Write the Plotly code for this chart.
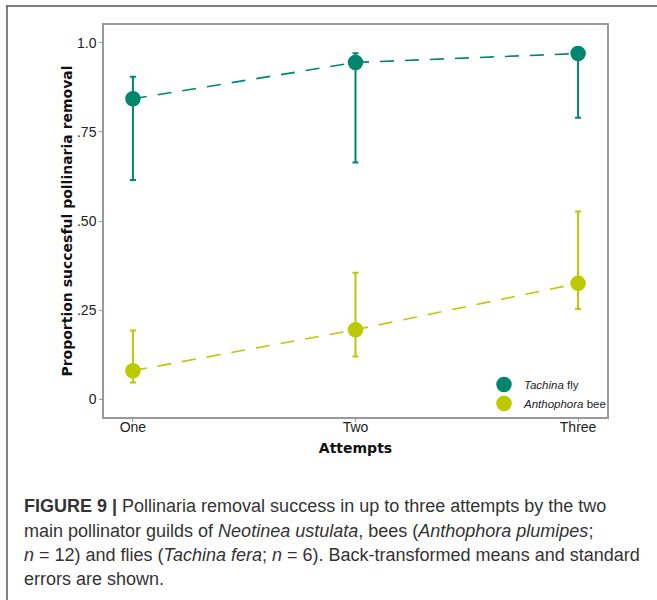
import plotly.graph_objects as go

attempts = ["One", "Two", "Three"]

tachina_mean = [0.843, 0.945, 0.970]
tachina_low = [0.615, 0.664, 0.790]
tachina_high = [0.905, 0.971, 0.970]

antho_mean = [0.080, 0.195, 0.325]
antho_low = [0.047, 0.120, 0.253]
antho_high = [0.193, 0.355, 0.527]

ytick_vals = [0, 0.25, 0.5, 0.75, 1.0]
ytick_text = ["0", ".25", ".50", ".75", "1.0"]

TEAL = "#00866e"
YEL = "#bcc800"

fig = go.Figure()

def add_series(name, mean, low, high, color):
    fig.add_trace(go.Scatter(
        x=attempts, y=mean, mode="lines", showlegend=False,
        line=dict(color=color, width=1.6, dash="14px,11px"), hoverinfo="skip"))
    fig.add_trace(go.Scatter(
        x=attempts, y=mean, mode="markers", name=name,
        marker=dict(color=color, size=15.5),
        error_y=dict(type="data", symmetric=False,
                     array=[h - m for h, m in zip(high, mean)],
                     arrayminus=[m - l for m, l in zip(mean, low)],
                     color=color, thickness=2, width=3)))

add_series("<i>Tachina</i> fly", tachina_mean, tachina_low, tachina_high, TEAL)
add_series("<i>Anthophora</i> bee", antho_mean, antho_low, antho_high, YEL)

L, R, T, B = 104, 607, 25, 417
W, H = 657, 600
pw, ph = R - L, B - T

def px(x):
    return (x - L) / pw

def py(y):
    return (B - y) / ph

caption = [
    "<b>FIGURE 9 |</b> Pollinaria removal success in up to three attempts by the two",
    "main pollinator guilds of <i>Neotinea ustulata</i>, bees (<i>Anthophora plumipes</i>;",
    "<i>n</i> = 12) and flies (<i>Tachina fera</i>; <i>n</i> = 6). Back-transformed means and standard",
    "errors are shown.",
]
cap_y = [506, 531, 555, 579]
annotations = []
for t, yy in zip(caption, cap_y):
    annotations.append(dict(
        text=t, xref="paper", yref="paper", x=px(22), y=py(yy),
        xanchor="left", yanchor="middle", showarrow=False,
        font=dict(family="Liberation Sans", size=18, color="#333333")))

shapes = [
    dict(type="line", xref="paper", yref="paper", x0=px(6), x1=px(660),
         y0=py(6), y1=py(6), line=dict(color="#555555", width=1.5)),
    dict(type="line", xref="paper", yref="paper", x0=px(7), x1=px(7),
         y0=py(6), y1=py(603), line=dict(color="#555555", width=1.5)),
]

fig.update_layout(
    width=W, height=H,
    margin=dict(l=L, r=W - R, t=T, b=H - B, pad=0),
    paper_bgcolor="white", plot_bgcolor="white",
    showlegend=True,
    legend=dict(x=px(484), y=py(418), xanchor="left", yanchor="bottom",
                bgcolor="rgba(0,0,0,0)", font=dict(family="Liberation Sans", size=11.5, color="#222"),
                itemwidth=30, tracegroupgap=2),
    xaxis=dict(range=[-0.13, 2.13], showgrid=False, zeroline=False,
               showline=True, mirror=True, linecolor="#999999", linewidth=1.5,
               ticks="outside", ticklen=3, tickcolor="#999999",
               ticklabelstandoff=-7,
               tickfont=dict(family="Liberation Sans", size=14, color="#222"),
               title=dict(text="<b>Attempts</b>", standoff=10,
                          font=dict(family="DejaVu Sans", size=14, color="#111"))),
    yaxis=dict(range=[-0.05, 1.05], showgrid=False, zeroline=False,
               showline=True, mirror=True, linecolor="#999999", linewidth=1.5,
               ticks="outside", ticklen=3, tickcolor="#999999",
               tickvals=ytick_vals, ticktext=ytick_text,
               tickfont=dict(family="Liberation Sans", size=14, color="#222"),
               title=dict(text="<b>Proportion succesful pollinaria removal</b>", standoff=1,
                          font=dict(family="DejaVu Sans", size=14, color="#111"))),
    annotations=annotations,
    shapes=shapes,
)

fig.write_html("out.html")
